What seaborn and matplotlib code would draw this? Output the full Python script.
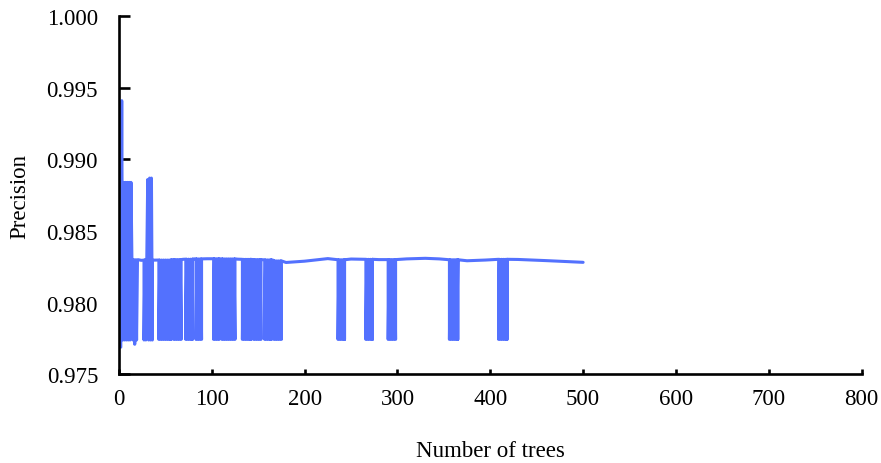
import numpy as np
import pandas as pd
import matplotlib
matplotlib.use("Agg")
import matplotlib.pyplot as plt
import seaborn as sns

# ---- data ----
# first trees (explicit)
early_trees = list(range(2, 22))
early_precision = [0.9769, 0.9941, 0.9774, 0.9884, 0.9774, 0.9884, 0.9774, 0.9884,
                   0.9774, 0.9884, 0.9774, 0.9884, 0.9830, 0.9774, 0.9830, 0.9771,
                   0.9830, 0.9774, 0.9830, 0.9830]

# block with upward spikes
spike_trees = [27, 27, 28, 29, 30, 31, 32, 33, 34, 35, 36, 36]
spike_precision = [0.98297, 0.9774, 0.9830, 0.9774, 0.9830, 0.9886, 0.9774, 0.9887,
                   0.9774, 0.9887, 0.9774, 0.98297]

# smooth baseline of the curve
baseline_trees = [24, 40, 57, 69, 81, 95, 109, 128, 143, 155, 166, 180, 200, 225, 250,
                  280, 310, 330, 345, 375, 395, 430, 460, 500]
baseline_precision = [0.98296, 0.98298, 0.98300, 0.98303, 0.98306, 0.98307, 0.98306,
                      0.98304, 0.98302, 0.98300, 0.98297, 0.98281, 0.98290, 0.98308,
                      0.98305, 0.98301, 0.98306, 0.98310, 0.98306, 0.98293, 0.98298,
                      0.98302, 0.98294, 0.98282]

# intervals where precision oscillates between the baseline and the low level
dip_start = [43, 59, 72, 83, 102, 111, 133, 145, 157, 167, 236, 266, 290, 356, 409]
dip_end = [56, 67, 79, 89, 108, 125, 142, 153, 164, 175, 243, 273, 298, 365, 418]
dip_top = [0.98298, 0.98301, 0.98304, 0.98306, 0.98307, 0.98306, 0.98303, 0.98301,
           0.98299, 0.98292, 0.98300, 0.98303, 0.98301, 0.98300, 0.98303]
dip_low = 0.97744

# ---- build series as ordered segments ----
segments = [list(zip(early_trees, early_precision)),
            list(zip(spike_trees, spike_precision))]
segments += [[pt] for pt in zip(baseline_trees, baseline_precision)]
for s, e, top in zip(dip_start, dip_end, dip_top):
    seg = [(s, top)]
    for k, t in enumerate(range(s, e + 1)):
        seg.append((t, dip_low if k % 2 == 0 else top))
    seg.append((e, dip_low))
    seg.append((e, top))
    segments.append(seg)
segments.sort(key=lambda sg: sg[0][0])
pts = [p for sg in segments for p in sg]
df = pd.DataFrame(pts, columns=["trees", "precision"])

# ---- plot ----
sns.set_theme(style="ticks")
plt.rcParams["font.family"] = ["Liberation Serif", "DejaVu Serif"]

fig = plt.figure(figsize=(8.81, 4.64), dpi=100)
ax = fig.add_axes([0.135, 0.191, 0.843, 0.772])
sns.lineplot(data=df, x="trees", y="precision", sort=False, estimator=None,
             color="#5371FE", linewidth=2.2, ax=ax)

ax.set_xlim(0, 800)
ax.set_ylim(0.975, 1.000)
ax.set_xticks(np.arange(0, 801, 100))
ax.set_yticks(np.arange(0.975, 1.0001, 0.005))
ax.set_yticklabels([f"{v:.3f}" for v in np.arange(0.975, 1.0001, 0.005)])
for sp in ["top", "right"]:
    ax.spines[sp].set_visible(False)
for sp in ["left", "bottom"]:
    ax.spines[sp].set_linewidth(1.9)
    ax.spines[sp].set_color("black")
ax.tick_params(axis="y", direction="in", length=8, width=1.9, pad=15,
               labelsize=16.5, colors="black")
ax.tick_params(axis="x", direction="in", length=3.6, width=1.9, pad=10,
               labelsize=16.5, colors="black")
ax.set_xlabel("Number of trees", fontsize=16.5, labelpad=22, color="black")
ax.set_ylabel("Precision", fontsize=16.5, labelpad=12, color="black")

fig.savefig("out.png", dpi=100)
